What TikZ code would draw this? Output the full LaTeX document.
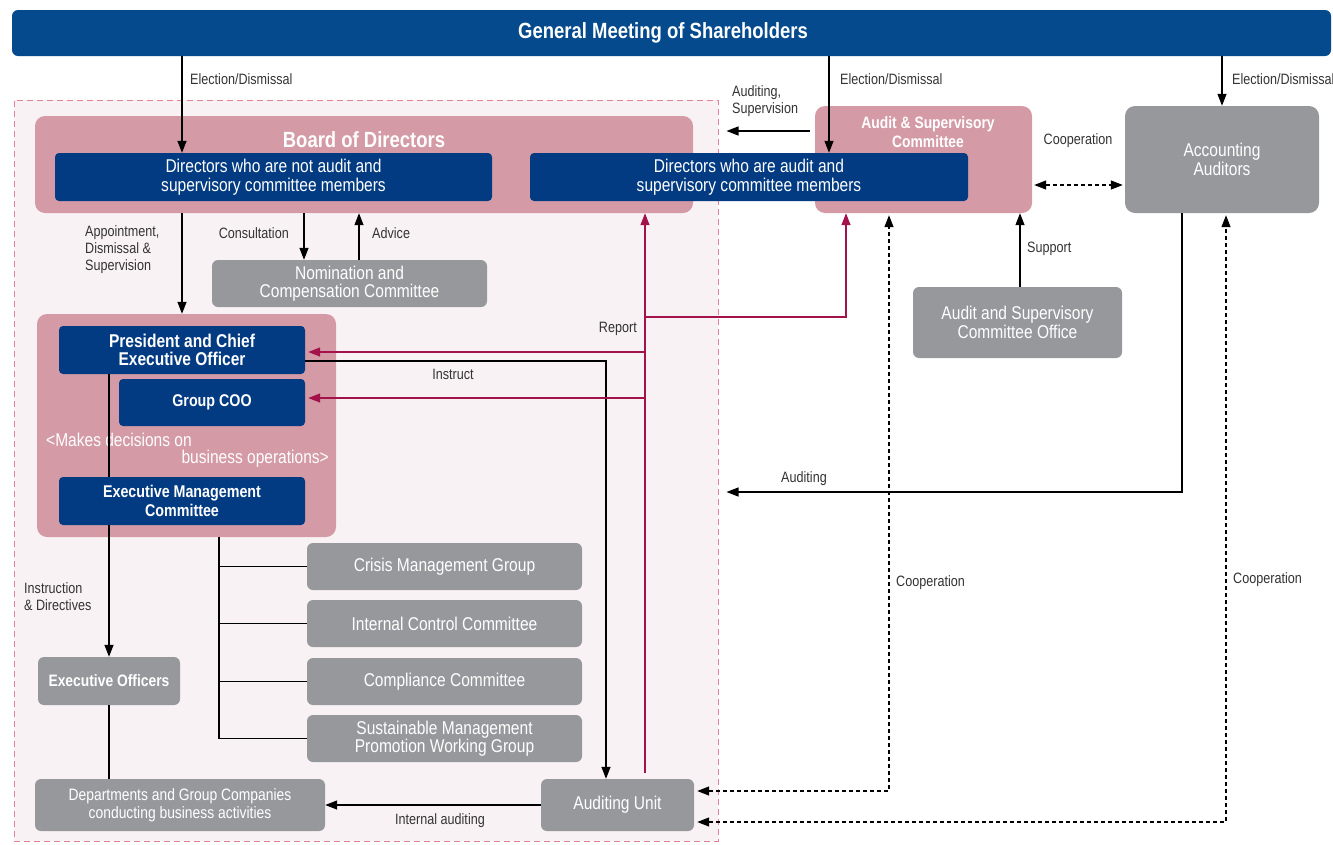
\documentclass[tikz,border=0pt]{standalone}
\usepackage{fontspec}
\setmainfont{Liberation Sans}[FakeStretch=0.84]
\usetikzlibrary{arrows.meta}
\definecolor{gmsblue}{HTML}{044A8C}
\definecolor{navy}{HTML}{023B82}
\definecolor{rose}{HTML}{D49AA5}
\definecolor{stone}{HTML}{97989C}
\definecolor{blush}{HTML}{F9F2F5}
\definecolor{rimpink}{HTML}{E38197}
\definecolor{wine}{HTML}{A3124B}
\definecolor{ink}{HTML}{333333}
\begin{document}
\begin{tikzpicture}[x=1pt, y=-1pt,
	box/.style={inner sep=0pt, align=center, text=white, font=\fontsize{18.5}{18.5}\selectfont},
	navybox/.style={box, fill=navy, rounded corners=4pt},
	rosebox/.style={box, fill=rose, rounded corners=10pt},
	stonebox/.style={box, fill=stone, rounded corners=6pt},
	boldtext/.style={font=\fontsize{#1}{18.5}\selectfont\bfseries},
	boldtext/.default=18.5,
	lbl/.style={inner sep=0pt, align=left, text=ink, font=\fontsize{15}{17}\selectfont},
	arr/.style={line width=1.3pt, -{Triangle[length=12pt,width=9pt]}},
	wire/.style={line width=1.3pt},
	rep/.style={line width=1.3pt, wine, -{Triangle[length=12pt,width=9pt]}},
	coop/.style={line width=1.3pt, dash pattern=on 4pt off 3pt, {Triangle[length=12pt,width=9pt]}-{Triangle[length=12pt,width=9pt]}}]
	\useasboundingbox (0,0) rectangle (1333,844);

	% frames
	\node[fill=blush, draw=rimpink, line width=1pt, dash pattern=on 6pt off 4pt, minimum width=704pt, minimum height=741pt] (region) at (366,470.5) {};
	\node[box, fill=gmsblue, rounded corners=6pt, minimum width=1319pt, minimum height=46pt] (gms) at (671.5,33) {};
	\node[box, font=\fontsize{22}{24}\selectfont\bfseries] (gmstitle) at (663,33) {General Meeting of Shareholders};
	\node[rosebox, minimum width=658pt, minimum height=97pt] (board) at (364,164.5) {};
	\node[box, font=\fontsize{22}{24}\selectfont\bfseries] (boardtitle) at (364,140) {Board of Directors};
	\node[rosebox, minimum width=217pt, minimum height=107pt] (asc) at (923.5,159.5) {};
	\node[box, font=\fontsize{16.5}{18.5}\selectfont\bfseries] (asctitle) at (928,132) {Audit \& Supervisory\\Committee};
	\node[stonebox, rounded corners=10pt, minimum width=194pt, minimum height=107pt] (acc) at (1222,159.5) {Accounting\\Auditors};

	% directors
	\node[navybox, minimum width=437pt, minimum height=48pt] (dirna) at (273.5,177) {Directors who are not audit and\\supervisory committee members};
	\node[navybox, minimum width=438pt, minimum height=48pt] (dira) at (749,177) {Directors who are audit and\\supervisory committee members};
	\node[stonebox, minimum width=275pt, minimum height=47pt] (ncc) at (349.5,283.5) {Nomination and\\Compensation Committee};
	\node[stonebox, minimum width=209pt, minimum height=71pt] (aso) at (1017.5,322.5) {Audit and Supervisory\\Committee Office};

	% execution
	\node[rosebox, minimum width=299pt, minimum height=223pt] (execbox) at (186.5,425.5) {};
	\node[navybox, boldtext, minimum width=246pt, minimum height=48pt] (ceo) at (182,350) {President and Chief\\Executive Officer};
	\node[navybox, boldtext=17, minimum width=186pt, minimum height=47pt] (coo) at (212,402.5) {Group COO};
	\node[box, anchor=west] (makes) at (46,440) {<Makes decisions on};
	\node[box, anchor=east] (bizops) at (329,459) {business operations>};
	\node[navybox, boldtext=17, minimum width=246pt, minimum height=48pt] (emc) at (182,501) {Executive Management\\Committee};
	\node[stonebox, boldtext=16.5, minimum width=142pt, minimum height=48pt] (eo) at (109,681) {Executive Officers};
	\node[stonebox, font=\fontsize{16.5}{18.5}\selectfont, minimum width=290pt, minimum height=52pt] (dept) at (180,805) {Departments and Group Companies\\conducting business activities};
	\node[stonebox, minimum width=153pt, minimum height=52pt] (au) at (617.5,805) {Auditing Unit};

	% committees
	\node[stonebox, minimum width=275pt, minimum height=47pt] (crisis) at (444.5,566.5) {Crisis Management Group};
	\node[stonebox, minimum width=275pt, minimum height=47pt] (icc) at (444.5,623.5) {Internal Control Committee};
	\node[stonebox, minimum width=275pt, minimum height=47pt] (comp) at (444.5,681.5) {Compliance Committee};
	\node[stonebox, minimum width=275pt, minimum height=47pt] (smp) at (444.5,738.5) {Sustainable Management\\Promotion Working Group};

	% arrows from the meeting
	\draw[arr] (gms.south -| ceo) -- (dirna.north -| ceo);
	\draw[arr] (gms.south -| 829,0) -- (dira.north -| 829,0);
	\draw[arr] (gms.south -| acc) -- (acc.north);
	\node[lbl, anchor=west] (elect1) at (190,79) {Election/Dismissal};
	\node[lbl, anchor=west] (elect2) at (840,79) {Election/Dismissal};
	\node[lbl, anchor=west] (elect3) at (1232,79) {Election/Dismissal};

	\draw[arr, shorten >=8pt] (810,131) -- (region.east |- 0,131);
	\node[lbl, anchor=south west] (audsup) at (732,117) {Auditing,\\Supervision};
	\draw[coop, shorten <=2pt, shorten >=2pt] (asc.east |- 0,185) -- (acc.west |- 0,185);
	\node[lbl] (coop0) at (1078,141) {Cooperation};

	% board side
	\draw[arr] (board.south -| 304,0) -- (ncc.north -| 304,0);
	\draw[arr] (ncc.north -| 359,0) -- (board.south -| 359,0);
	\node[lbl, anchor=east] (consult) at (289,233) {Consultation};
	\node[lbl, anchor=west] (advice) at (372,233) {Advice};
	\draw[arr] (board.south -| ceo) -- (execbox.north -| ceo);
	\node[lbl, anchor=west] (appoint) at (85,250) {Appointment,\\Dismissal \&\\Supervision};

	\draw[wire] (ceo.south -| eo) -- (emc.north -| eo);
	\draw[arr] (emc.south -| eo) -- (eo.north);
	\node[lbl, anchor=west] (instr) at (24,597) {Instruction\\\& Directives};
	\draw[wire] (eo.south) -- (eo.south |- dept.north);

	% committees tree
	\draw[wire] (execbox.south -| 219,0) -- (smp.west -| 219,0);
	\foreach \c in {crisis,icc,comp,smp}
		\draw[wire] (\c.west -| 219,0) -- (\c.west);

	% instruct and report
	\draw[arr] ([yshift=-11pt]ceo.east) -| (au.north -| 606,0);
	\node[lbl] (instruct) at (453,374) {Instruct};
	\draw[rep, shorten <=6pt] (au.north -| 645,0) -- (board.south -| 645,0);
	\draw[rep] (645,317) -| (asc.south -| 846,0);
	\draw[rep, shorten >=3pt] (645,352) -- (ceo.east |- 0,352);
	\draw[rep, shorten >=3pt] (645,398) -- (coo.east |- 0,398);
	\node[lbl, anchor=east] (report) at (637,329) {Report};

	\draw[arr] (au.west) -- (dept.east);
	\node[lbl] (intaud) at (440,821) {Internal auditing};

	% audit side
	\draw[arr] (aso.north -| 1020,0) -- (asc.south -| 1020,0);
	\node[lbl, anchor=west] (support) at (1027,249) {Support};
	\draw[arr, shorten >=8pt] (acc.south -| 1182,0) |- (region.east |- 0,492);
	\node[lbl] (auditing) at (804,479) {Auditing};
	\draw[coop, shorten <=3pt, shorten >=2pt] (au.east |- 0,791) -| (asc.south -| 889,0);
	\node[lbl, anchor=west] (coop1) at (896,583) {Cooperation};
	\draw[coop, shorten <=3pt, shorten >=2pt] (au.east |- 0,822) -| (acc.south -| 1226,0);
	\node[lbl, anchor=west] (coop2) at (1233,580) {Cooperation};
\end{tikzpicture}
\end{document}
